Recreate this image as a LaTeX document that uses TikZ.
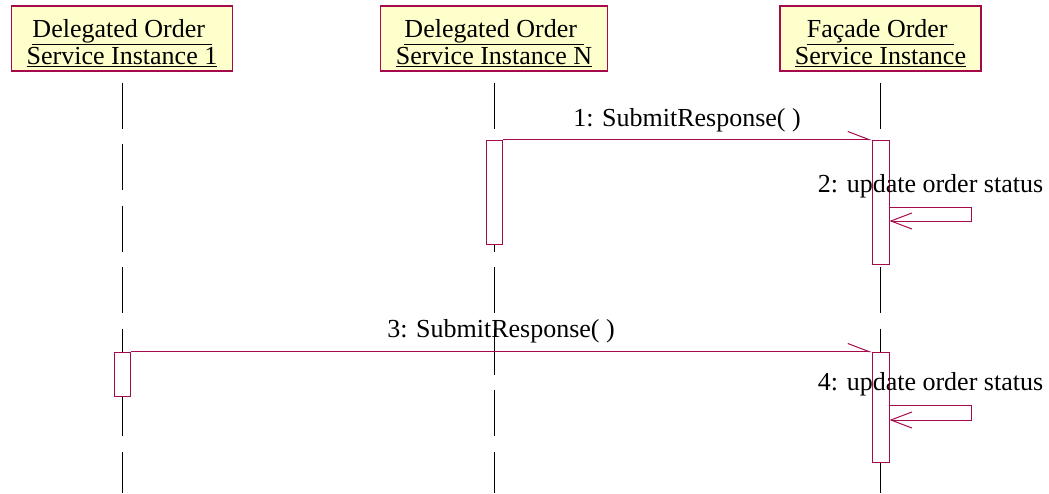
\documentclass[tikz,border=0pt]{standalone}
\usepackage{fontspec}
\setmainfont{Liberation Serif}
\usepackage{tikz}
\usetikzlibrary{arrows.meta, positioning, calc}
\usepackage{xcolor}
\definecolor{umlred}{RGB}{165,10,75}
\definecolor{umlfill}{RGB}{255,255,204}
\newcommand{\headstrut}{\rule{0pt}{27pt}}

\begin{document}
\begin{tikzpicture}[
  x=1pt, y=-1pt,
  font=\fontsize{26}{27}\selectfont,
  lifeobj/.style={
    rectangle, draw=umlred, line width=1.2pt, fill=umlfill,
    minimum height=65pt, inner xsep=15pt, inner ysep=0pt, align=center
  },
  activation/.style={
    rectangle, draw=umlred, line width=1pt, fill=white,
    minimum width=16pt, inner sep=0pt
  },
  lifeline/.style={line width=0.9pt, black, dash pattern=on 46pt off 15.5pt},
  msg/.style={line width=1pt, umlred, -{Straight Barb[harpoon, length=21pt, width=16pt]}},
  selfmsg/.style={line width=1pt, umlred, -{Straight Barb[length=21pt, width=16pt]}},
  lbl/.style={text=black, inner sep=0pt, anchor=base}
]
\useasboundingbox (0,0) rectangle (1049,493);

% Object boxes
\node[lifeobj] (d1) at (122,38.5) {\headstrut\underline{Delegated Order\ }\\\underline{Service Instance 1}};
\node[lifeobj] (dn) at (494,38.5) {\headstrut\underline{Delegated Order\ }\\\underline{Service Instance N}};
\node[lifeobj] (fa) at (880.5,38.5) {\headstrut\underline{Fa\c{c}ade Order\ }\\\underline{Service Instance}};

% Lifelines
\coordinate (bottom) at (0,493);
\draw[lifeline] ([yshift=-11pt]d1.south) -- (d1.south |- bottom);
\draw[lifeline] ([yshift=-11pt]dn.south) -- (dn.south |- bottom);
\draw[lifeline] ([yshift=-11pt]fa.south) -- (fa.south |- bottom);

% Activations
\node[activation, minimum height=104pt] (actN) at (dn.south |- 0,192) {};
\node[activation, minimum width=17pt, minimum height=124pt] (actF1) at (fa.south |- 0,202) {};
\node[activation, minimum height=44pt] (act1) at (d1.south |- 0,374) {};
\node[activation, minimum width=17pt, minimum height=110pt] (actF2) at (fa.south |- 0,407) {};

% Messages
\draw[msg] (actN.north east) -- node[lbl, yshift=13pt] {1: SubmitResponse( )} (actF1.north west);
\draw[selfmsg] ([yshift=-5pt]actF1.east) -- node[lbl, yshift=15pt] {2: update order status} ++(82,0)
  |- ([yshift=-19pt]actF1.east);
\draw[msg] (act1.north east) -- node[lbl, yshift=14pt] {3: SubmitResponse( )} (actF2.north west);
\draw[selfmsg] ([yshift=2pt]actF2.east) -- node[lbl, yshift=15pt] {4: update order status} ++(82,0)
  |- ([yshift=-13pt]actF2.east);

\end{tikzpicture}
\end{document}
